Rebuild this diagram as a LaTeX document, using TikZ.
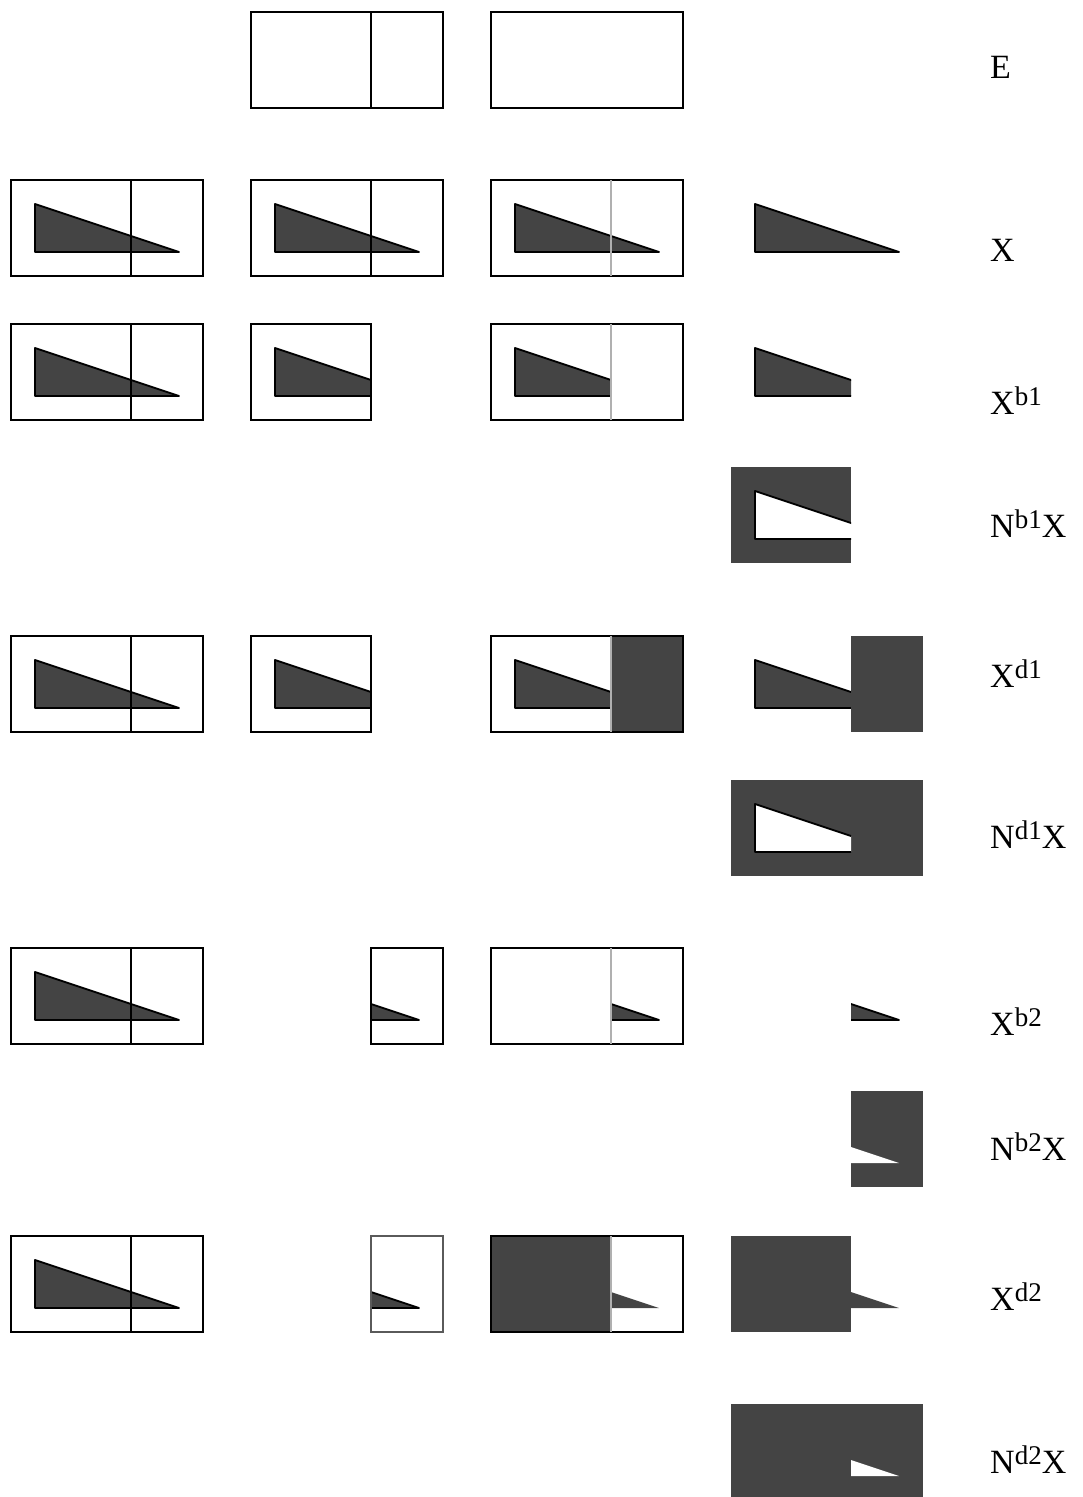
\documentclass[tikz,border=0pt]{standalone}
\usepackage{fontspec}
\setmainfont{Liberation Serif}
\definecolor{dk}{RGB}{68,68,68}
\definecolor{lg}{RGB}{176,176,176}
\definecolor{mg}{RGB}{90,90,90}
\newcommand\tri[1]{\path[#1] (24,24)--(24,72)--(168,72)--cycle;}
\newcommand\sups[1]{\raisebox{9pt}{\fontsize{27}{27}\selectfont #1}}
\tikzset{
  tline/.style={draw=black,line width=1.8pt,line join=round},
  boxline/.style={draw=black,line width=2.2pt},
  grayline/.style={draw=lg,line width=1.5pt},
  lab/.style={anchor=base west,inner sep=0pt,font=\fontsize{34}{34}\selectfont},
}
\newcommand\fullcell{%
  \tri{fill=dk,tline}
  \draw[boxline] (0,0) rectangle (192,96);
  \draw[boxline] (120,0)--(120,96);}
\begin{document}
\begin{tikzpicture}[x=1pt,y=-1pt]
\useasboundingbox (0,0) rectangle (1083,1497);
% ---------- Row E
\begin{scope}[shift={(251,12)}]
  \draw[boxline] (0,0) rectangle (192,96);
  \draw[boxline] (120,0)--(120,96);
\end{scope}
\begin{scope}[shift={(491,12)}]
  \draw[boxline] (0,0) rectangle (192,96);
\end{scope}
\node[lab] (lE) at (990,78) {E};
% ---------- Row X
\begin{scope}[shift={(11,180)}]\fullcell\end{scope}
\begin{scope}[shift={(251,180)}]\fullcell\end{scope}
\begin{scope}[shift={(491,180)}]
  \tri{fill=dk,tline}
  \draw[boxline] (0,0) rectangle (192,96);
  \draw[grayline] (120,0)--(120,96);
\end{scope}
\begin{scope}[shift={(731,180)}]
  \tri{fill=dk,tline}
\end{scope}
\node[lab] (lX) at (990,261) {X};
% ---------- Row Xb1
\begin{scope}[shift={(11,324)}]\fullcell\end{scope}
\begin{scope}[shift={(251,324)}]
  \begin{scope}\clip (0,-2) rectangle (120,98); \tri{fill=dk,tline}\end{scope}
  \draw[boxline] (0,0) rectangle (120,96);
\end{scope}
\begin{scope}[shift={(491,324)}]
  \begin{scope}\clip (0,-2) rectangle (120,98); \tri{fill=dk,tline}\end{scope}
  \draw[boxline] (0,0) rectangle (192,96);
  \draw[grayline] (120,0)--(120,96);
\end{scope}
\begin{scope}[shift={(731,324)}]
  \begin{scope}\clip (0,-2) rectangle (120,98); \tri{fill=dk,tline}\end{scope}
\end{scope}
\node[lab] (lXb1) at (990,414) {X\sups{b1}};
% ---------- Row Nb1X
\begin{scope}[shift={(731,467)}]
  \fill[dk] (0,0) rectangle (120,96);
  \begin{scope}\clip (0,-2) rectangle (120,98); \tri{fill=white,tline}\end{scope}
\end{scope}
\node[lab] (lNb1X) at (990,537) {N\sups{b1}X};
% ---------- Row Xd1
\begin{scope}[shift={(11,636)}]\fullcell\end{scope}
\begin{scope}[shift={(251,636)}]
  \begin{scope}\clip (0,-2) rectangle (120,98); \tri{fill=dk,tline}\end{scope}
  \draw[boxline] (0,0) rectangle (120,96);
\end{scope}
\begin{scope}[shift={(491,636)}]
  \begin{scope}\clip (0,-2) rectangle (120,98); \tri{fill=dk,tline}\end{scope}
  \fill[dk] (120,0) rectangle (192,96);
  \draw[boxline] (0,0) rectangle (192,96);
  \draw[grayline] (120,0)--(120,96);
\end{scope}
\begin{scope}[shift={(731,636)}]
  \begin{scope}\clip (0,-2) rectangle (120,98); \tri{fill=dk,tline}\end{scope}
  \fill[dk] (120,0) rectangle (192,96);
\end{scope}
\node[lab] (lXd1) at (990,687) {X\sups{d1}};
% ---------- Row Nd1X
\begin{scope}[shift={(731,780)}]
  \fill[dk] (0,0) rectangle (192,96);
  \begin{scope}\clip (0,-2) rectangle (120,98); \tri{fill=white,tline}\end{scope}
\end{scope}
\node[lab] (lNd1X) at (990,848) {N\sups{d1}X};
% ---------- Row Xb2
\begin{scope}[shift={(11,948)}]\fullcell\end{scope}
\begin{scope}[shift={(251,948)}]
  \begin{scope}\clip (120,-2) rectangle (194,98); \tri{fill=dk,tline}\end{scope}
  \draw[boxline] (120,0) rectangle (192,96);
\end{scope}
\begin{scope}[shift={(491,948)}]
  \begin{scope}\clip (120,-2) rectangle (194,98); \tri{fill=dk,tline}\end{scope}
  \draw[boxline] (0,0) rectangle (192,96);
  \draw[grayline] (120,0)--(120,96);
\end{scope}
\begin{scope}[shift={(731,948)}]
  \begin{scope}\clip (120,-2) rectangle (194,98); \tri{fill=dk,tline}\end{scope}
\end{scope}
\node[lab] (lXb2) at (990,1035) {X\sups{b2}};
% ---------- Row Nb2X
\begin{scope}[shift={(731,1091)}]
  \fill[dk] (120,0) rectangle (192,96);
  \begin{scope}\clip (120,-2) rectangle (194,98); \tri{fill=white}\end{scope}
\end{scope}
\node[lab] (lNb2X) at (990,1160) {N\sups{b2}X};
% ---------- Row Xd2
\begin{scope}[shift={(11,1236)}]\fullcell\end{scope}
\begin{scope}[shift={(251,1236)}]
  \begin{scope}\clip (120,-2) rectangle (194,98); \tri{fill=dk,tline}\end{scope}
  \draw[boxline,draw=mg] (120,0) rectangle (192,96);
\end{scope}
\begin{scope}[shift={(491,1236)}]
  \fill[dk] (0,0) rectangle (120,96);
  \begin{scope}\clip (120,-2) rectangle (194,98); \tri{fill=dk}\end{scope}
  \draw[boxline] (0,0) rectangle (192,96);
  \draw[grayline] (120,0)--(120,96);
\end{scope}
\begin{scope}[shift={(731,1236)}]
  \fill[dk] (0,0) rectangle (120,96);
  \begin{scope}\clip (120,-2) rectangle (194,98); \tri{fill=dk}\end{scope}
\end{scope}
\node[lab] (lXd2) at (990,1310) {X\sups{d2}};
% ---------- Row Nd2X
\begin{scope}[shift={(731,1404)}]
  \fill[dk] (0,0) rectangle (192,96);
  \begin{scope}\clip (120,-2) rectangle (194,98); \tri{fill=white}\end{scope}
\end{scope}
\node[lab] (lNd2X) at (990,1473) {N\sups{d2}X};
\end{tikzpicture}
\end{document}
